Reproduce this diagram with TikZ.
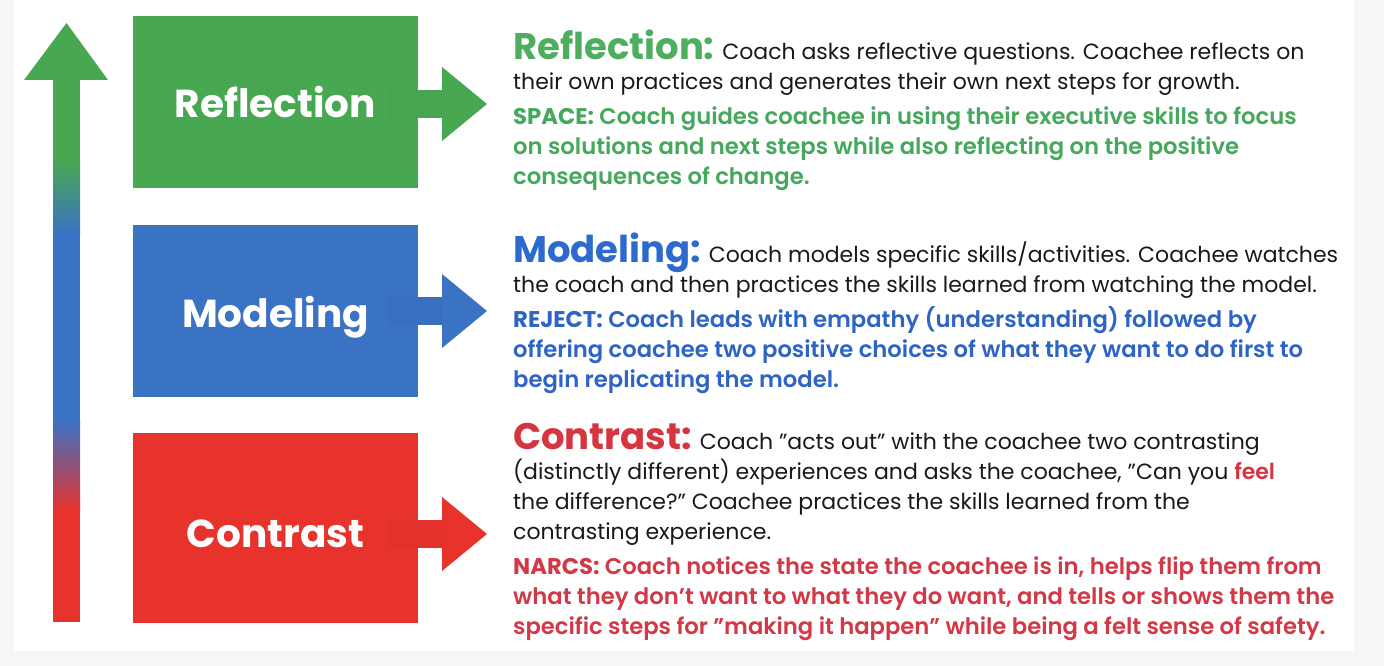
\documentclass[tikz,border=0pt]{standalone}
\usepackage{fontspec}
\setmainfont{Poppins}
\newfontfamily\popsemi{Poppins SemiBold}[Ligatures=TeX]
\usetikzlibrary{calc}
\definecolor{gbox}{RGB}{72,168,82}
\definecolor{bbox}{RGB}{58,114,196}
\definecolor{rbox}{RGB}{232,50,44}
\definecolor{ghead}{RGB}{76,174,94}
\definecolor{bhead}{RGB}{44,106,205}
\definecolor{rhead}{RGB}{214,52,62}
\definecolor{gtxt}{RGB}{70,168,92}
\definecolor{btxt}{RGB}{46,100,196}
\definecolor{rtxt}{RGB}{210,56,70}
\definecolor{ink}{RGB}{25,25,25}
\definecolor{pagegray}{RGB}{246,246,246}
\newcommand\stagearrow[3]{%
  \fill[#2] ($(#1)+(-30,-14)$) rectangle ($(#1)+(25,14)$);
  \fill[#3] ($(#1)+(24,-37)$) -- ($(#1)+(69,0)$) -- ($(#1)+(24,37)$) -- cycle;}
\newcommand\headtxt[2]{{\bfseries\fontsize{37}{40}\selectfont\color{#1}#2}}
\newcommand\acrsize{\fontsize{22.7}{30}\selectfont}
\newcommand\acr[2]{\color{#1}\acrsize{\bfseries #2}\popsemi\acrsize{}}
\newcommand\acrline[1]{\color{#1}\popsemi\acrsize{}}
\begin{document}
\begin{tikzpicture}[x=1pt,y=-1pt,
  stagebox/.style={minimum width=285pt, inner sep=0pt, text=white,
    text depth=0pt, font=\bfseries\fontsize{39}{44}\selectfont},
  block/.style={anchor=north west, inner sep=0pt, align=left, text=ink,
    font=\fontsize{22}{30}\selectfont},
]
\fill[pagegray] (0,0) rectangle (1384,666);
\fill[white] (14,0) rectangle (1354,651);
\useasboundingbox (0,0) rectangle (1384,666);

% vertical progress arrow
\fill[rbox] (53,510) rectangle (80,622);
\shade[top color=bbox, bottom color=rbox] (53,420) rectangle (80,511);
\fill[bbox] (53,233) rectangle (80,421);
\shade[top color=gbox, bottom color=bbox] (53,160) rectangle (80,234);
\fill[gbox] (53,79) rectangle (80,161);
\fill[gbox] (24,80) -- (66.5,23) -- (108,80) -- cycle;

% stage boxes
\node[stagebox, fill=gbox, minimum height=172pt, text height=32pt] (refl) at (275.5,102) {Reflection};
\node[stagebox, fill=bbox, minimum height=172pt, text height=32pt] (model) at (275.5,311) {Modeling};
\node[stagebox, fill=rbox, minimum height=190pt, text height=38pt] (contr) at (275.5,528) {Contrast};

\coordinate (garr) at (418,104);
\coordinate (barr) at (418,311);
\coordinate (rarr) at (418,534);
\stagearrow{garr}{gbox!98!black}{gbox}
\stagearrow{barr}{bbox!97!black}{bbox}
\stagearrow{rarr}{rbox!98!black}{rbox}

% texts
\node[block] (trefl) at (513,30) {%
\headtxt{ghead}{Reflection:} Coach asks reflective questions. Coachee reflects on\\
their own practices and generates their own next steps for growth.\\[5pt]
\acr{gtxt}{SPACE:} Coach guides coachee in using their executive skills to focus\\
\acrline{gtxt}on solutions and next steps while also reflecting on the positive\\
\acrline{gtxt}consequences of change.};

\node[block] (tmodel) at (513,233) {%
\headtxt{bhead}{Modeling:} Coach models specific skills/activities. Coachee watches\\
the coach and then practices the skills learned from watching the model.\\[5pt]
\acr{btxt}{REJECT:} Coach leads with empathy (understanding) followed by\\
\acrline{btxt}offering coachee two positive choices of what they want to do first to\\
\acrline{btxt}begin replicating the model.};

\node[block] (tcontr) at (513,423) {%
\headtxt{rhead}{Contrast:} Coach "acts out" with the coachee two contrasting\\
(distinctly different) experiences and asks the coachee, "Can you {\popsemi\color{rhead}feel}\\
the difference?" Coachee practices the skills learned from the\\
contrasting experience.\\[5pt]
\acr{rtxt}{NARCS:} Coach notices the state the coachee is in, helps flip them from\\
\acrline{rtxt}what they don't want to what they do want, and tells or shows them the\\
\acrline{rtxt}specific steps for "making it happen" while being a felt sense of safety.};
\end{tikzpicture}
\end{document}
